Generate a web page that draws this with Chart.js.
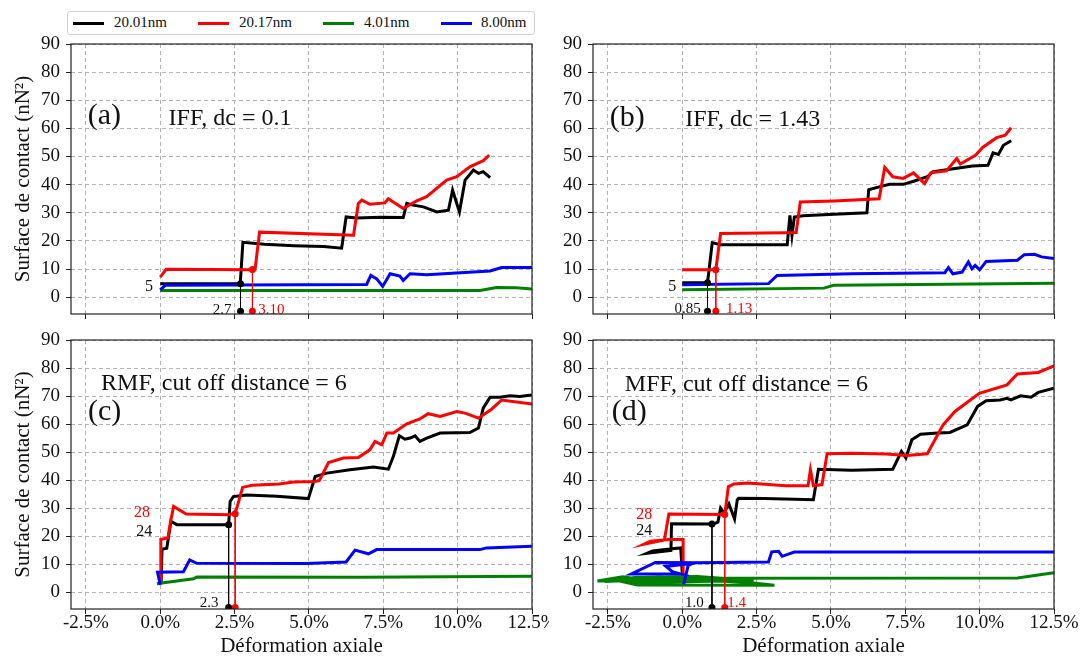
<!DOCTYPE html>
<html>
<head>
<meta charset="utf-8">
<script src="https://cdn.jsdelivr.net/npm/chart.js@4.4.1/dist/chart.umd.min.js"></script>
<style>
  body { margin: 0; background: #fff; }
  #wrap { position: relative; width: 1083px; height: 663px; font-family: 'Liberation Serif', serif; }
  #wrap canvas { position: absolute; left: 0; top: 0; }
  #pa, #pc { clip-path: inset(0px 534px 0px 0px); }
  .legend { position: absolute; left: 67px; top: 11px; width: 468px; height: 24px; box-sizing: border-box;
            border: 1px solid #d3d3d3; border-radius: 3px; background: #fff; z-index: 5; }
  .legend span.ln { position: absolute; top: 10px; width: 31px; height: 3px; }
  .legend span.tx { position: absolute; top: 2px; font-size: 15px; color: #111; }
</style>
</head>
<body>
<div id="wrap">
  <canvas id="pa" width="1083" height="663"></canvas>
  <canvas id="pb" width="1083" height="663"></canvas>
  <canvas id="pc" width="1083" height="663"></canvas>
  <canvas id="pd" width="1083" height="663"></canvas>
  <div class="legend" id="legend"></div>
</div>
<script>
// axes
const xTicks = [-2.5, 0, 2.5, 5, 7.5, 10, 12.5];
const yTicks = [0, 10, 20, 30, 40, 50, 60, 70, 80, 90];
const seriesNames = ['20.01nm', '20.17nm', '4.01nm', '8.00nm'];
const seriesColors = ['#000000', '#ff0000', '#008000', '#0000ff'];

// (a) IFF, dc = 0.1   -- [strain %, surface]
const a_2001 = [[0,4.8],[2.69,4.8],[2.78,19.5],[3.5,18.8],[4.5,18.3],[5.5,18.0],[6.1,17.4],[6.25,28.5],[6.6,28.1],[7.4,28.4],[8.17,28.3],[8.29,33.3],[8.5,32.7],[8.85,32.1],[9.3,30.3],[9.69,30.9],[9.83,38],[10.06,30.3],[10.25,41.6],[10.53,45.2],[10.7,44],[10.86,44.6],[11.09,42.5]];
const a_2017 = [[0,7.1],[0.2,9.9],[3.1,9.7],[3.19,9.9],[3.34,23.1],[6.5,22],[6.66,33.3],[6.78,34.5],[7.05,33],[7.55,33.5],[7.67,35],[8.17,31.5],[8.62,34.2],[8.96,35.7],[9.63,41.6],[9.97,42.8],[10.41,46.3],[10.86,48.5],[11.06,50.5]];
const a_401 = [[0,2.4],[10.75,2.4],[11.3,3.4],[11.98,3.3],[12.5,2.9]];
const a_800 = [[0,2.6],[0.17,4.2],[6.94,4.5],[7.08,7.7],[7.28,6.5],[7.48,3.8],[7.73,8.3],[8.06,7.5],[8.17,5.9],[8.4,8.3],[8.96,8],[11.09,9.3],[11.48,10.5],[12.5,10.5]];
const a_marks = [[2.7,4.8,-5],[3.1,9.8,-5]];

// (b) IFF, dc = 1.43
const b_2001 = [[0,5.1],[0.85,5.1],[1.01,19.4],[1.27,18.6],[3.53,18.6],[3.62,29.1],[3.69,22],[3.77,28.5],[4.06,28.9],[5.1,29.5],[6.21,30],[6.27,38.2],[6.62,39.2],[6.97,40.1],[7.43,40.1],[7.78,41.2],[8.24,42.8],[8.42,44.5],[8.94,45.4],[9.76,46.6],[10.28,46.9],[10.45,51.3],[10.63,50.7],[10.8,54],[11.06,55.6]];
const b_2017 = [[0,9.7],[1.13,9.7],[1.29,22.6],[3.48,22.9],[3.83,23],[3.97,33.8],[5.1,34.2],[6.62,35],[6.81,46.1],[7.08,42.8],[7.43,42.2],[7.78,44.2],[8.15,40.4],[8.36,44.2],[8.88,44.9],[9.23,49.3],[9.35,47.3],[9.87,50.5],[10.1,53.2],[10.57,56.7],[10.86,57.6],[11.06,60.2]];
const b_401 = [[0,2.6],[4.76,3.2],[5.1,4.2],[8.01,4.5],[12.5,4.9]];
const b_800 = [[0,4.4],[2.9,4.8],[3.19,7.7],[5.69,8.3],[8.83,8.7],[8.95,10.5],[9.1,8.3],[9.41,8.9],[9.62,12.5],[9.74,10.1],[9.85,11.3],[10.0,9.7],[10.22,12.7],[11.27,13.1],[11.5,15.1],[11.85,15.2],[12.08,14.3],[12.5,13.7]];
const b_marks = [[0.85,5.1,-5],[1.13,9.7,-5]];

// (c) RMF, cut off distance = 6
const c_2001 = [[0.03,3.5],[0.06,15.3],[0.22,15.7],[0.36,25.3],[0.56,24.1],[2.3,24.1],[2.35,32.4],[2.46,34.1],[2.91,34.7],[3.92,34.2],[4.98,33.4],[5.21,41.3],[5.6,42.5],[6.38,43.7],[7.17,44.7],[7.67,43.9],[7.84,48.5],[8.04,55.8],[8.23,54.6],[8.4,55],[8.57,55.8],[8.73,53.8],[8.96,55],[9.41,56.8],[10.41,57],[10.7,58.6],[10.86,65.7],[11.09,69.6],[11.42,69.6],[11.76,70.1],[12.09,69.8],[12.5,70.4]];
const c_2017 = [[0,3.5],[0.02,18.8],[0.26,19.4],[0.35,25.3],[0.45,30.6],[0.87,27.9],[2.27,27.6],[2.52,28.2],[2.6,31],[2.77,37.4],[3.1,38.2],[4.0,38.6],[4.48,39.3],[5.21,39.5],[5.35,39.9],[5.66,46.3],[6.16,47.9],[6.66,48.1],[7.05,50.8],[7.22,53.8],[7.45,52.6],[7.62,56.8],[7.84,56.8],[8.29,60.1],[8.73,61.8],[9.01,63.7],[9.41,62.7],[9.97,64.5],[10.25,63.9],[10.7,62.1],[11.14,65.3],[11.48,68.6],[12.5,67.2]];
const c_401 = [[-0.11,3.0],[0.05,3.3],[1.12,4.8],[1.23,5.4],[6.72,5.3],[12.5,5.7]];
const c_800 = [[0,2.6],[-0.09,7.1],[0.78,7.3],[0.99,11.5],[1.23,10.3],[4.93,10.2],[6.25,10.8],[6.55,15],[7.0,13.7],[7.28,15.2],[10.75,15.2],[10.97,15.8],[12.5,16.4]];
const c_marks = [[2.3,24.1,-5.5],[2.52,28,-5.5]];

// (d) MFF, cut off distance = 6
const d_2001 = [[0.02,3.5],[-0.05,15.8],[-0.35,15.5],[-1.0,14.7],[-1.18,13.9],[-0.38,14.9],[-0.36,24.4],[1.04,24.3],[1.2,25],[1.29,30],[1.4,28.2],[1.57,31.5],[1.76,26.1],[1.85,32.9],[1.9,33.5],[2.78,33.4],[4.41,33],[4.58,43.9],[5.69,43.5],[7.08,43.9],[7.37,50.2],[7.52,47.9],[7.72,54.4],[8.01,56.4],[8.59,56.8],[9.0,57],[9.58,59.7],[9.93,66.3],[10.22,68.3],[10.69,68.6],[10.92,69.2],[11.05,68.6],[11.38,70.1],[11.73,69.6],[11.97,71.3],[12.5,72.8]];
const d_2017 = [[0.05,3.5],[0.03,18.8],[-0.45,18.8],[-1.07,18.2],[-1.29,17.1],[-0.6,18.6],[-0.45,27.9],[1.43,27.7],[1.55,37.6],[1.74,38.6],[2.2,39],[3.48,38],[4.23,38],[4.31,43.7],[4.41,38],[4.7,38.4],[4.87,49.4],[5.69,49.6],[6.85,49.3],[7.55,48.8],[8.24,49.4],[8.77,59.7],[9.17,64.5],[9.99,71],[10.92,74],[11.27,77.9],[11.97,78.4],[12.5,80.8]];
const d_401 = [[0.0,3.0],[-1.0,4.2],[-2.85,4.0],[-2.0,5.5],[-1.3,4.4],[-2.6,3.8],[-1.6,5.2],[0.5,5.6],[2.4,4.2],[-0.4,3.6],[-1.8,3.3],[-1.5,2.6],[3.1,2.5],[2.3,3.4],[0.2,4.6],[-2.2,4.9],[-0.8,5.4],[0.1,5.0],[11.27,5.1],[12.5,6.9]];
const d_800 = [[0.05,2.8],[0.2,9.6],[0.4,10.5],[-0.9,10.6],[-1.71,6.5],[-0.06,6.5],[-0.33,7.3],[-0.55,9.2],[0.5,10.5],[2.9,10.8],[3.01,14.4],[3.24,14.6],[3.36,12.8],[3.77,14.3],[12.5,14.3]];
const d_marks = [[1.0,24.3,-5.5],[1.43,27.7,-5.5]];

const FONT = 'Liberation Serif';

// legend (html)
const legend = document.getElementById('legend');
[[5, 46], [130, 171], [255, 296], [373, 413]].forEach(([l, t], i) => {
  legend.insertAdjacentHTML('beforeend',
    `<span class="ln" style="left:${l}px;background:${seriesColors[i]}"></span>` +
    `<span class="tx" style="left:${t}px">${seriesNames[i]}</span>`);
});

const notesPlugin = {
  id: 'notes',
  afterDatasetsDraw(chart, args, opts) {
    const { ctx, chartArea: a } = chart;
    const sx = chart.scales.x, sy = chart.scales.y;
    ctx.save();
    (opts.items || []).forEach(n => {
      ctx.font = `${n.size}px "${FONT}"`;
      ctx.fillStyle = n.color || '#111';
      ctx.textAlign = n.align || 'left';
      ctx.textBaseline = 'middle';
      ctx.fillText(n.text, sx.getPixelForValue(n.x), sy.getPixelForValue(n.y));
    });
    ctx.strokeStyle = '#222';
    ctx.lineWidth = 1.2;
    ctx.strokeRect(a.left, a.top, a.right - a.left, a.bottom - a.top);
    ctx.restore();
  }
};

function panel(id, p) {
  const datasets = p.series.map((pts, i) => ({
    label: seriesNames[i],
    data: pts.map(([x, y]) => ({ x, y })),
    borderColor: seriesColors[i],
    borderWidth: 3,
    showLine: true,
    pointRadius: 0,
    order: 4 - i
  }));
  p.marks.forEach(([x, y, y0], i) => {
    const c = i === 0 ? '#000000' : '#ff0000';
    datasets.push({
      data: [{ x, y }, { x, y: y0 }],
      borderColor: c, backgroundColor: c,
      borderWidth: 1, showLine: true,
      pointRadius: 3.5, pointBorderWidth: 0,
      order: 0
    });
  });

  new Chart(document.getElementById(id), {
    type: 'scatter',
    data: { datasets },
    options: {
      responsive: false,
      animation: false,
      events: [],
      layout: { padding: p.pad },
      plugins: {
        legend: { display: false },
        tooltip: { enabled: false },
        notes: { items: p.notes }
      },
      scales: {
        x: {
          type: 'linear', min: -3, max: 12.5,
          afterBuildTicks: s => { s.ticks = xTicks.map(v => ({ value: v })); },
          afterFit: s => { s.height = p.bottom ? 54 : 6; },
          grid: { color: '#b4b4b4', lineWidth: 1, tickColor: '#222', tickLength: 5, tickWidth: 1 },
          border: { display: false, dash: [4, 3] },
          ticks: {
            display: p.bottom, padding: -2, color: '#111', autoSkip: false, maxRotation: 0,
            font: { family: FONT, size: 19 },
            callback: v => v.toFixed(1) + '%'
          },
          title: {
            display: p.bottom, text: 'Déformation axiale', color: '#111',
            font: { family: FONT, size: 21 }, padding: { top: 0, bottom: 4 }
          }
        },
        y: {
          type: 'linear', min: -6, max: 90,
          afterBuildTicks: s => { s.ticks = yTicks.map(v => ({ value: v })); },
          afterFit: s => { s.width = p.left ? 63 : 40; },
          grid: { color: '#b4b4b4', lineWidth: 1, tickColor: '#222', tickLength: 5, tickWidth: 1 },
          border: { display: false, dash: [4, 3] },
          ticks: { padding: 6, color: '#111', autoSkip: false, font: { family: FONT, size: 19 } },
          title: {
            display: p.left, text: 'Surface de contact (nN²)', color: '#111',
            font: { family: FONT, size: 21 }, padding: { top: 3, bottom: 0 }
          }
        }
      }
    },
    plugins: [notesPlugin]
  });
}

panel('pa', {
  left: true, bottom: false,
  pad: { left: 8, right: 551, top: 44, bottom: 343 },
  series: [a_2001, a_2017, a_401, a_800], marks: a_marks,
  notes: [
    { text: '(a)', x: -1.88, y: 64.3, size: 30, align: 'center' },
    { text: 'IFF, dc = 0.1', x: 0.28, y: 63.6, size: 24 },
    { text: '5', x: -0.24, y: 3.7, size: 16, align: 'right' },
    { text: '2.7', x: 2.4, y: -4.6, size: 15, align: 'right' },
    { text: '3.10', x: 3.3, y: -4.6, size: 15, color: '#ff0000' }
  ]
});
panel('pb', {
  left: false, bottom: false,
  pad: { left: 553, right: 29, top: 44, bottom: 343 },
  series: [b_2001, b_2017, b_401, b_800], marks: b_marks,
  notes: [
    { text: '(b)', x: -1.85, y: 63.8, size: 30, align: 'center' },
    { text: 'IFF, dc = 1.43', x: 0.1, y: 63.2, size: 24 },
    { text: '5', x: -0.2, y: 3.5, size: 16, align: 'right' },
    { text: '0.85', x: 0.62, y: -4.4, size: 15, align: 'right' },
    { text: '1.13', x: 1.47, y: -4.4, size: 15, color: '#ff0000' }
  ]
});
panel('pc', {
  left: true, bottom: true,
  pad: { left: 8, right: 551, top: 340, bottom: 0 },
  series: [c_2001, c_2017, c_401, c_800], marks: c_marks,
  notes: [
    { text: '(c)', x: -1.87, y: 64.2, size: 30, align: 'center' },
    { text: 'RMF, cut off distance = 6', x: -1.99, y: 74.3, size: 24 },
    { text: '28', x: -0.34, y: 28.3, size: 16, align: 'right', color: '#ff0000' },
    { text: '24', x: -0.27, y: 21.4, size: 16, align: 'right' },
    { text: '2.3', x: 1.96, y: -3.8, size: 15, align: 'right' }
  ]
});
panel('pd', {
  left: false, bottom: true,
  pad: { left: 553, right: 29, top: 340, bottom: 0 },
  series: [d_2001, d_2017, d_401, d_800], marks: d_marks,
  notes: [
    { text: '(d)', x: -1.78, y: 64.2, size: 30, align: 'center' },
    { text: 'MFF, cut off distance = 6', x: -1.93, y: 74, size: 24 },
    { text: '28', x: -1.01, y: 27.6, size: 16, align: 'right', color: '#ff0000' },
    { text: '24', x: -1.01, y: 21.8, size: 16, align: 'right' },
    { text: '1.0', x: 0.72, y: -3.8, size: 15, align: 'right' },
    { text: '1.4', x: 1.51, y: -3.8, size: 15, color: '#ff0000' }
  ]
});
</script>
</body>
</html>
